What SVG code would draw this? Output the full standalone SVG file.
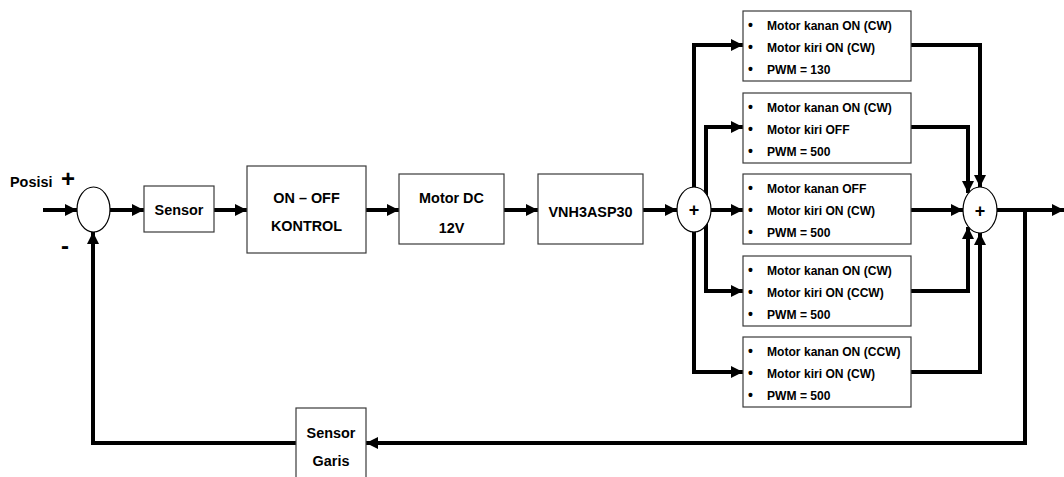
<svg xmlns="http://www.w3.org/2000/svg" width="1064" height="477" viewBox="0 0 1064 477">
<style>
.box{fill:#fff;stroke:#3a3a3a;stroke-width:1.2}
.sum{fill:#fff;stroke:#000;stroke-width:1.2}
.ln{fill:none;stroke:#000;stroke-width:4;stroke-linejoin:miter}
.arr{marker-end:url(#ah)}
text{font-family:"Liberation Sans",Arial,sans-serif;font-weight:bold;fill:#000}
.lb{font-size:15.5px;text-anchor:middle}
.bl{font-size:13px}
.bu{font-size:14px}
.pm{font-size:18px;text-anchor:middle}
</style>
<defs>
<marker id="ah" markerUnits="userSpaceOnUse" markerWidth="14" markerHeight="12" refX="12" refY="6" orient="auto">
<path d="M0,0 L12,6 L0,12 Z" fill="#000"/>
</marker>
</defs>
<g id="connectors">
<path class="ln arr" d="M43,210 H77"/>
<path class="ln arr" d="M110,210 H144"/>
<path class="ln arr" d="M214,210 H247"/>
<path class="ln arr" d="M366,210 H399"/>
<path class="ln arr" d="M504,210 H538"/>
<path class="ln arr" d="M643,210 H677"/>
<path class="ln arr" d="M711,210 H743"/>
<path class="ln arr" d="M694,200 V45 H743"/>
<path class="ln arr" d="M694,220 V372 H743"/>
<path class="ln arr" d="M706,200 V127 H743"/>
<path class="ln arr" d="M706,220 V291 H743"/>
<path class="ln arr" d="M911,45 H980 V187"/>
<path class="ln arr" d="M911,127 H968 V193"/>
<path class="ln arr" d="M911,210 H963"/>
<path class="ln arr" d="M911,291 H968 V227"/>
<path class="ln arr" d="M911,372 H980 V233"/>
<path class="ln arr" d="M997,210 H1064"/>
<path class="ln arr" d="M1025,210 V443 H366"/>
<path class="ln arr" d="M296,443 H93 V232"/>
</g>
<g id="posisi-label">
<g transform="translate(10,0) scale(0.93,1)"><text x="0" y="187" style="font-size:15.5px">Posisi</text></g>
<text x="68" y="187" style="font-size:24px;text-anchor:middle">+</text>
<text x="65" y="254" style="font-size:24px;text-anchor:middle">-</text>
</g>
<g id="sum1"><ellipse class="sum" cx="93.5" cy="209.5" rx="16.5" ry="22.5"/></g>
<g id="sensor"><rect class="box" x="144" y="186" width="70" height="46"/>
<g transform="translate(179,0) scale(0.93,1)"><text class="lb" x="0" y="215">Sensor</text></g></g>
<g id="onoff"><rect class="box" x="247" y="166" width="119" height="87"/>
<g transform="translate(306.5,0) scale(0.93,1)"><text class="lb" x="0" y="203">ON – OFF</text><text class="lb" x="0" y="231">KONTROL</text></g></g>
<g id="motordc"><rect class="box" x="399" y="174" width="105" height="70"/>
<g transform="translate(451.5,0) scale(0.93,1)"><text class="lb" x="0" y="203">Motor DC</text><text class="lb" x="0" y="233">12V</text></g></g>
<g id="vnh"><rect class="box" x="538" y="174" width="105" height="70"/>
<g transform="translate(590.5,0) scale(0.93,1)"><text class="lb" x="0" y="217.5">VNH3ASP30</text></g></g>
<g id="sum2"><ellipse class="sum" cx="694" cy="209.5" rx="17" ry="22.5"/><text class="pm" x="694" y="216">+</text></g>
<g id="mode1"><rect class="box" x="743" y="11" width="168" height="70"/>
<text class="bu" x="748" y="30">•</text><text class="bu" x="748" y="52">•</text><text class="bu" x="748" y="74">•</text>
<g transform="translate(767,0) scale(0.93,1)"><text class="bl" x="0" y="30">Motor kanan ON (CW)</text><text class="bl" x="0" y="52">Motor kiri ON (CW)</text><text class="bl" x="0" y="74">PWM = 130</text></g></g>
<g id="mode2"><rect class="box" x="743" y="93" width="168" height="70"/>
<text class="bu" x="748" y="112">•</text><text class="bu" x="748" y="134">•</text><text class="bu" x="748" y="156">•</text>
<g transform="translate(767,0) scale(0.93,1)"><text class="bl" x="0" y="112">Motor kanan ON (CW)</text><text class="bl" x="0" y="134">Motor kiri OFF</text><text class="bl" x="0" y="156">PWM = 500</text></g></g>
<g id="mode3"><rect class="box" x="743" y="174" width="168" height="70"/>
<text class="bu" x="748" y="193">•</text><text class="bu" x="748" y="215">•</text><text class="bu" x="748" y="237">•</text>
<g transform="translate(767,0) scale(0.93,1)"><text class="bl" x="0" y="193">Motor kanan OFF</text><text class="bl" x="0" y="215">Motor kiri ON (CW)</text><text class="bl" x="0" y="237">PWM = 500</text></g></g>
<g id="mode4"><rect class="box" x="743" y="256" width="168" height="70"/>
<text class="bu" x="748" y="275">•</text><text class="bu" x="748" y="297">•</text><text class="bu" x="748" y="319">•</text>
<g transform="translate(767,0) scale(0.93,1)"><text class="bl" x="0" y="275">Motor kanan ON (CW)</text><text class="bl" x="0" y="297">Motor kiri ON (CCW)</text><text class="bl" x="0" y="319">PWM = 500</text></g></g>
<g id="mode5"><rect class="box" x="743" y="337" width="168" height="70"/>
<text class="bu" x="748" y="356">•</text><text class="bu" x="748" y="378">•</text><text class="bu" x="748" y="400">•</text>
<g transform="translate(767,0) scale(0.93,1)"><text class="bl" x="0" y="356">Motor kanan ON (CCW)</text><text class="bl" x="0" y="378">Motor kiri ON (CW)</text><text class="bl" x="0" y="400">PWM = 500</text></g></g>
<g id="sum3"><ellipse class="sum" cx="980" cy="210" rx="17" ry="23"/><text class="pm" x="980" y="216.5">+</text></g>
<g id="sensorgaris"><rect class="box" x="296" y="408" width="70" height="80"/>
<g transform="translate(331,0) scale(0.93,1)"><text class="lb" x="0" y="438">Sensor</text><text class="lb" x="0" y="466">Garis</text></g></g>
</svg>
